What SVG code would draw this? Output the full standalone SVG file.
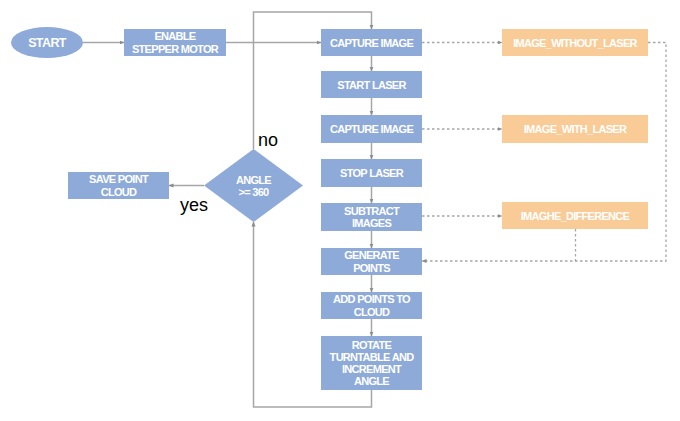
<svg xmlns="http://www.w3.org/2000/svg" width="680" height="421" viewBox="0 0 680 421">
<style>
.b{fill:#8eaad9}
.o{fill:#f9cb96}
.t{font-family:"Liberation Sans",Arial,sans-serif;font-weight:bold;font-size:11px;fill:#ffffff;text-anchor:middle;letter-spacing:-0.7px}
.l{font-family:"Liberation Sans",Arial,sans-serif;font-size:18px;fill:#000000}
.c{fill:none;stroke:#a6a6a6;stroke-width:1.5}
.d{fill:none;stroke:#a6a6a6;stroke-width:1.3;stroke-dasharray:2.5,2.5}
</style>
<defs>
<marker id="a" viewBox="0 0 10 10" refX="9" refY="5" markerWidth="5" markerHeight="5" orient="auto" markerUnits="userSpaceOnUse">
<path d="M0,1 L10,5 L0,9 z" fill="#8c8c8c"/>
</marker>
</defs>
<rect width="680" height="421" fill="#ffffff"/>
<g id="connectors">
<line class="c" x1="83" y1="42.5" x2="124" y2="42.5" marker-end="url(#a)"/>
<line class="c" x1="226" y1="42.5" x2="321" y2="42.5" marker-end="url(#a)"/>
<line class="c" x1="371.5" y1="56" x2="371.5" y2="71" marker-end="url(#a)"/>
<line class="c" x1="371.5" y1="98" x2="371.5" y2="115" marker-end="url(#a)"/>
<line class="c" x1="371.5" y1="143" x2="371.5" y2="159" marker-end="url(#a)"/>
<line class="c" x1="371.5" y1="187" x2="371.5" y2="203" marker-end="url(#a)"/>
<line class="c" x1="371.5" y1="231" x2="371.5" y2="248" marker-end="url(#a)"/>
<line class="c" x1="371.5" y1="275" x2="371.5" y2="292" marker-end="url(#a)"/>
<line class="c" x1="371.5" y1="319" x2="371.5" y2="336" marker-end="url(#a)"/>
<polyline class="c" points="371.5,390 371.5,407 253.5,407 253.5,222" marker-end="url(#a)"/>
<polyline class="c" points="253.5,149 253.5,12 371.5,12 371.5,29" marker-end="url(#a)"/>
<line class="c" x1="204" y1="185.5" x2="169" y2="185.5" marker-end="url(#a)"/>
<line class="d" x1="422" y1="42.5" x2="502" y2="42.5" marker-end="url(#a)"/>
<line class="d" x1="422" y1="129" x2="502" y2="129" marker-end="url(#a)"/>
<line class="d" x1="422" y1="216" x2="502" y2="216" marker-end="url(#a)"/>
<polyline class="d" points="648,42.5 666,42.5 666,261 422,261" marker-end="url(#a)"/>
<line class="d" x1="575.5" y1="229" x2="575.5" y2="261"/>
</g>
<g id="start">
<ellipse class="b" cx="47" cy="42.5" rx="36" ry="15.5"/>
<text class="t" x="47" y="47" style="font-size:12.5px;letter-spacing:-0.6px">START</text>
</g>
<g id="enable">
<rect class="b" x="124" y="29" width="102" height="27"/>
<text class="t" x="175" y="40">ENABLE</text>
<text class="t" x="175" y="53">STEPPER MOTOR</text>
</g>
<g id="capture1">
<rect class="b" x="321" y="29" width="101" height="27"/>
<text class="t" x="371.5" y="46.5">CAPTURE IMAGE</text>
</g>
<g id="startlaser">
<rect class="b" x="321" y="71" width="101" height="27"/>
<text class="t" x="371.5" y="88.5">START LASER</text>
</g>
<g id="capture2">
<rect class="b" x="321" y="115" width="101" height="28"/>
<text class="t" x="371.5" y="133">CAPTURE IMAGE</text>
</g>
<g id="stoplaser">
<rect class="b" x="321" y="159" width="101" height="28"/>
<text class="t" x="371.5" y="177">STOP LASER</text>
</g>
<g id="subtract">
<rect class="b" x="321" y="203" width="101" height="28"/>
<text class="t" x="371.5" y="214.5">SUBTRACT</text>
<text class="t" x="371.5" y="227">IMAGES</text>
</g>
<g id="generate">
<rect class="b" x="321" y="248" width="101" height="27"/>
<text class="t" x="371.5" y="259">GENERATE</text>
<text class="t" x="371.5" y="271.5">POINTS</text>
</g>
<g id="addpoints">
<rect class="b" x="321" y="292" width="101" height="27"/>
<text class="t" x="371.5" y="303">ADD POINTS TO</text>
<text class="t" x="371.5" y="315.5">CLOUD</text>
</g>
<g id="rotate">
<rect class="b" x="321" y="336" width="101" height="54"/>
<text class="t" x="371.5" y="348.5">ROTATE</text>
<text class="t" x="371.5" y="360.5">TURNTABLE AND</text>
<text class="t" x="371.5" y="372.5">INCREMENT</text>
<text class="t" x="371.5" y="384.5">ANGLE</text>
</g>
<g id="decision">
<polygon class="b" points="253.5,149 303,185.5 253.5,222 204,185.5"/>
<text class="t" x="253.5" y="184">ANGLE</text>
<text class="t" x="253.5" y="196">&gt;= 360</text>
</g>
<g id="save">
<rect class="b" x="68" y="172" width="101" height="27"/>
<text class="t" x="118.5" y="183">SAVE POINT</text>
<text class="t" x="118.5" y="195.5">CLOUD</text>
</g>
<g id="img_without">
<rect class="o" x="502" y="29" width="146" height="27"/>
<text class="t" x="575" y="46.5">IMAGE_WITHOUT_LASER</text>
</g>
<g id="img_with">
<rect class="o" x="502" y="115" width="146" height="28"/>
<text class="t" x="575" y="133">IMAGE_WITH_LASER</text>
</g>
<g id="img_diff">
<rect class="o" x="502" y="202" width="146" height="27"/>
<text class="t" x="575" y="219.5">IMAGHE_DIFFERENCE</text>
</g>
<g id="labels">
<text class="l" x="258" y="146">no</text>
<text class="l" x="180" y="210.5">yes</text>
</g>
</svg>
